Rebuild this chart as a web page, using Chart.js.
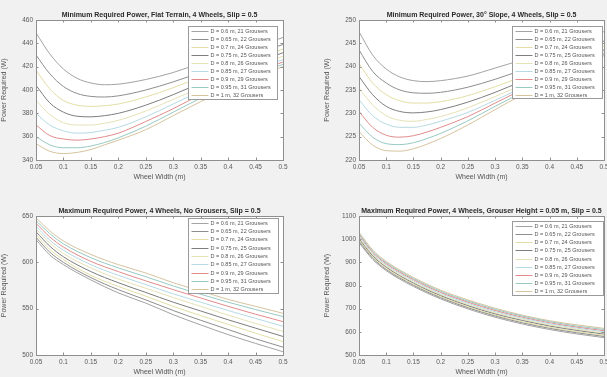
<!DOCTYPE html>
<html>
<head>
<meta charset="utf-8">
<script src="https://cdn.jsdelivr.net/npm/chart.js@4.4.1/dist/chart.umd.min.js"></script>
<style>
  html, body { margin: 0; padding: 0; width: 607px; height: 377px; overflow: hidden; background: #f1f1f1; }
  canvas { position: absolute; }
</style>
</head>
<body>
<canvas id="flatChart" width="300" height="182" style="left:0;top:0"></canvas>
<canvas id="slopeChart" width="284" height="182" style="left:323px;top:0"></canvas>
<canvas id="noGrouserChart" width="300" height="187" style="left:0;top:190px"></canvas>
<canvas id="grouserChart" width="284" height="187" style="left:323px;top:190px"></canvas>
<script>
// datos (W)
const seriesLabels = [
  "D = 0.6 m, 21 Grousers", "D = 0.65 m, 22 Grousers", "D = 0.7 m, 24 Grousers",
  "D = 0.75 m, 25 Grousers", "D = 0.8 m, 26 Grousers", "D = 0.85 m, 27 Grousers",
  "D = 0.9 m, 29 Grousers", "D = 0.95 m, 31 Grousers", "D = 1 m, 32 Grousers"
];
const seriesColors = ["#a3a3a3", "#8e8e8e", "#e4dea6", "#7e7e7e", "#e6e2b6",
                      "#b6dae4", "#e28c8c", "#98cac2", "#d6c49e"];

const xTicks = [0.05, 0.1, 0.15, 0.2, 0.25, 0.3, 0.35, 0.4, 0.45, 0.5];

// anchos de rueda para las curvas de potencia minima
const widthMin = [0.05, 0.075, 0.1, 0.125, 0.15, 0.175, 0.2, 0.25, 0.3, 0.35, 0.4, 0.45, 0.5];
// anchos de rueda para las curvas de potencia maxima
const widthMax = [0.05, 0.075, 0.1, 0.15, 0.2, 0.25, 0.3, 0.35, 0.4, 0.45, 0.5];

const flatTicks = [340, 360, 380, 400, 420, 440, 460];
const flatPower = [
  [449, 431, 418, 410, 406, 404.5, 405, 409, 415, 423, 430, 437, 445],
  [430, 414, 403, 397, 394.5, 394, 395, 400, 407, 415, 423, 431, 439],
  [417, 401, 391, 387, 386, 386.5, 388, 394, 402, 411, 419, 427, 435],
  [404, 389, 381, 377.5, 377, 378, 380, 387, 396, 406, 415, 423, 432],
  [391, 379, 372, 370, 370, 371.5, 374, 382, 392, 402, 412, 420, 429],
  [380, 370, 365, 363, 363.5, 365.5, 368, 377, 388, 399, 409, 418, 426],
  [370, 361, 358, 357, 358, 360, 363, 373, 384, 396, 406, 415, 424],
  [360, 353, 350.5, 350.5, 352, 355, 359, 369, 381, 393, 404, 413, 422],
  [354, 347.5, 345.5, 346.5, 349, 353, 357, 366, 378, 390, 401, 411, 420]
];

const slopeTicks = [220, 225, 230, 235, 240, 245, 250];
const slopePower = [
  [247.5, 242.5, 239.5, 237.8, 237, 236.8, 237, 238, 239.7, 241.5, 243.5, 245.5, 247.5],
  [243.6, 239, 236.5, 235, 234.4, 234.3, 234.5, 235.6, 237.3, 239.3, 241.4, 243.5, 245.5],
  [240.7, 236.5, 234, 232.7, 232.2, 232.2, 232.5, 233.8, 235.7, 237.9, 240.1, 242.3, 244.4],
  [237.9, 234, 231.5, 230.4, 230.1, 230.3, 230.8, 232.4, 234.5, 236.9, 239.2, 241.5, 243.6],
  [235.4, 231.8, 229.5, 228.5, 228.3, 228.7, 229.3, 231.2, 233.6, 236.1, 238.6, 241, 243.1],
  [232.9, 229.5, 227.7, 227, 227, 227.5, 228.3, 230.2, 232.8, 235.5, 238.2, 240.6, 242.8],
  [230.4, 227, 225.3, 224.9, 225.2, 226, 227, 229.3, 232.2, 235.1, 237.9, 240.5, 242.7],
  [227.9, 224.9, 223.5, 223.3, 223.7, 224.6, 225.7, 228.4, 231.5, 234.5, 237.4, 240.1, 242.5],
  [226.1, 223.2, 222, 221.9, 222.4, 223.4, 224.6, 227.5, 230.8, 234, 237, 239.8, 242.3]
];

const noGrouserTicks = [500, 550, 600, 650];
const noGrouserPower = [
  [624.5, 608, 597.5, 581, 567, 556, 543.5, 532.5, 522, 512.5, 503.5],
  [627, 611, 600, 583.5, 570.5, 559.5, 548, 537.5, 527.5, 517.5, 508.5],
  [630, 614, 603, 586, 574, 563.5, 552.5, 542.5, 533, 523.5, 514.5],
  [633, 617.5, 606, 590, 578, 567.5, 557, 547.5, 538, 529, 520],
  [636, 621, 609.5, 594, 582, 572, 562, 552.5, 543, 534, 525.5],
  [639, 624, 613, 597.5, 586, 576, 566, 557, 548, 539.5, 531],
  [642, 627.5, 616.5, 601, 590, 580, 570.5, 561.5, 552.5, 544, 536],
  [645, 631, 620, 605, 594, 584.5, 574.5, 565.5, 557, 549, 541.5],
  [648, 634, 623, 608.5, 597.5, 588.5, 578, 569, 560, 552.5, 545]
];

const grouserTicks = [500, 600, 700, 800, 900, 1000, 1100];
const grouserPower = [
  [985, 913, 864, 796, 742, 699, 663, 634, 610, 591, 575],
  [991, 918, 869, 801, 747, 704, 668, 639, 615, 596, 580],
  [996, 923, 874, 805, 751, 708, 672, 644, 620, 601, 585],
  [1002, 928, 879, 810, 756, 713, 677, 649, 625, 606, 590],
  [1007, 933, 884, 815, 760, 718, 682, 654, 630, 611, 595],
  [1013, 938, 889, 820, 765, 723, 687, 659, 635, 616, 600],
  [1018, 943, 894, 825, 770, 728, 692, 663, 639, 620, 605],
  [1024, 948, 899, 830, 775, 733, 697, 668, 644, 625, 610],
  [1030, 954, 904, 835, 780, 738, 702, 672, 648, 630, 615]
];

// caja estilo matlab: fondo blanco, marco, ticks hacia dentro y leyenda
const matlabBox = {
  id: "matlabBox",
  beforeDatasetsDraw(chart) {
    const a = chart.chartArea, ctx = chart.ctx;
    ctx.save();
    ctx.fillStyle = "#ffffff";
    ctx.fillRect(a.left, a.top, a.right - a.left, a.bottom - a.top);
    ctx.restore();
  },
  afterDatasetsDraw(chart, args, opts) {
    const a = chart.chartArea, ctx = chart.ctx;
    ctx.save();
    ctx.strokeStyle = "#8f8f8f";
    ctx.lineWidth = 1;
    ctx.beginPath();
    chart.scales.x.ticks.forEach(t => {
      const px = Math.round(chart.scales.x.getPixelForValue(t.value)) + 0.5;
      ctx.moveTo(px, a.bottom); ctx.lineTo(px, a.bottom - 2.5);
      ctx.moveTo(px, a.top); ctx.lineTo(px, a.top + 2.5);
    });
    chart.scales.y.ticks.forEach(t => {
      const py = Math.round(chart.scales.y.getPixelForValue(t.value)) + 0.5;
      ctx.moveTo(a.left, py); ctx.lineTo(a.left + 2.5, py);
      ctx.moveTo(a.right, py); ctx.lineTo(a.right - 2.5, py);
    });
    ctx.stroke();
    ctx.strokeRect(Math.round(a.left) + 0.5, Math.round(a.top) + 0.5,
                   Math.round(a.right - a.left), Math.round(a.bottom - a.top));

    // leyenda
    const lg = opts.legend;
    const lx = Math.round(a.right - lg.right - lg.width) + 0.5;
    const ly = Math.round(a.top + lg.top) + 0.5;
    ctx.fillStyle = "#ffffff";
    ctx.fillRect(lx, ly, lg.width, lg.height);
    ctx.strokeStyle = "#9a9a9a";
    ctx.strokeRect(lx, ly, lg.width, lg.height);
    const rowH = lg.height / chart.data.datasets.length;
    ctx.font = "5.5px 'Liberation Sans', Arial, sans-serif";
    ctx.textBaseline = "middle";
    chart.data.datasets.forEach((ds, i) => {
      const y = Math.round(ly + rowH * (i + 0.5)) + 0.5;
      ctx.strokeStyle = ds.borderColor;
      ctx.beginPath();
      ctx.moveTo(lx + 3, y); ctx.lineTo(lx + 20, y);
      ctx.stroke();
      ctx.fillStyle = "#555";
      ctx.fillText(ds.label, lx + 22, y);
    });
    ctx.restore();
  }
};

function makeChart(id, title, xs, rows, yTicks, opt) {
  const ctx = document.getElementById(id).getContext("2d");
  return new Chart(ctx, {
    type: "line",
    data: {
      datasets: rows.map((row, i) => ({
        label: seriesLabels[i],
        data: xs.map((x, j) => ({ x: x, y: row[j] })),
        borderColor: seriesColors[i],
        borderWidth: 1,
        pointRadius: 0,
        fill: false,
        cubicInterpolationMode: "monotone"
      }))
    },
    options: {
      responsive: false,
      animation: false,
      events: [],
      layout: { padding: { left: 0, right: opt.padRight, top: 0, bottom: 0 } },
      scales: {
        x: {
          type: "linear",
          min: xTicks[0],
          max: xTicks[xTicks.length - 1],
          afterBuildTicks: s => { s.ticks = xTicks.map(v => ({ value: v })); },
          afterFit: s => { s.height = opt.xHeight; s.paddingLeft = 0; s.paddingRight = 0; },
          grid: { display: false, drawTicks: false },
          border: { display: false },
          ticks: {
            autoSkip: false, maxRotation: 0, padding: 3, color: "#5a5a5a",
            font: { size: 6.5, family: "'Liberation Sans', Arial, sans-serif" },
            callback: v => String(+v.toFixed(2))
          },
          title: {
            display: true, text: "Wheel Width (m)", color: "#555",
            padding: { top: 0, bottom: 1 },
            font: { size: 7, family: "'Liberation Sans', Arial, sans-serif" }
          }
        },
        y: {
          type: "linear",
          min: yTicks[0],
          max: yTicks[yTicks.length - 1],
          afterBuildTicks: s => { s.ticks = yTicks.map(v => ({ value: v })); },
          afterFit: s => { s.width = 36; s.paddingTop = 0; s.paddingBottom = 0; },
          grid: { display: false, drawTicks: false },
          border: { display: false },
          ticks: {
            padding: 3, color: "#5a5a5a",
            font: { size: 6.5, family: "'Liberation Sans', Arial, sans-serif" },
            callback: v => String(v)
          },
          title: {
            display: true, text: "Power Required (W)", color: "#555",
            padding: { top: 0, bottom: 2 },
            font: { size: 7, family: "'Liberation Sans', Arial, sans-serif" }
          }
        }
      },
      plugins: {
        legend: { display: false },
        tooltip: { enabled: false },
        title: {
          display: true, text: title, fullSize: false, color: "#2a2a2a",
          padding: { top: opt.titleTop, bottom: 1 },
          font: { size: 7, weight: "bold", family: "'Liberation Sans', Arial, sans-serif" }
        },
        matlabBox: { legend: opt.legend }
      }
    },
    plugins: [matlabBox]
  });
}

makeChart("flatChart", "Minimum Required Power, Flat Terrain, 4 Wheels, Slip = 0.5",
  widthMin, flatPower, flatTicks,
  { padRight: 17, xHeight: 22, titleTop: 10.6, legend: { right: 6, top: 6, width: 89, height: 73 } });

makeChart("slopeChart", "Minimum Required Power, 30\u00b0 Slope, 4 Wheels, Slip = 0.5",
  widthMin, slopePower, slopeTicks,
  { padRight: 3, xHeight: 22, titleTop: 10.6, legend: { right: 2, top: 6, width: 90, height: 72 } });

makeChart("noGrouserChart", "Maximum Required Power, 4 Wheels, No Grousers, Slip = 0.5",
  widthMax, noGrouserPower, noGrouserTicks,
  { padRight: 17, xHeight: 22, titleTop: 16.6, legend: { right: 5, top: 2, width: 90, height: 75 } });

makeChart("grouserChart", "Maximum Required Power, 4 Wheels, Grouser Height = 0.05 m, Slip = 0.5",
  widthMax, grouserPower, grouserTicks,
  { padRight: 3, xHeight: 22, titleTop: 16.6, legend: { right: 1, top: 5, width: 91, height: 74 } });
</script>
</body>
</html>
